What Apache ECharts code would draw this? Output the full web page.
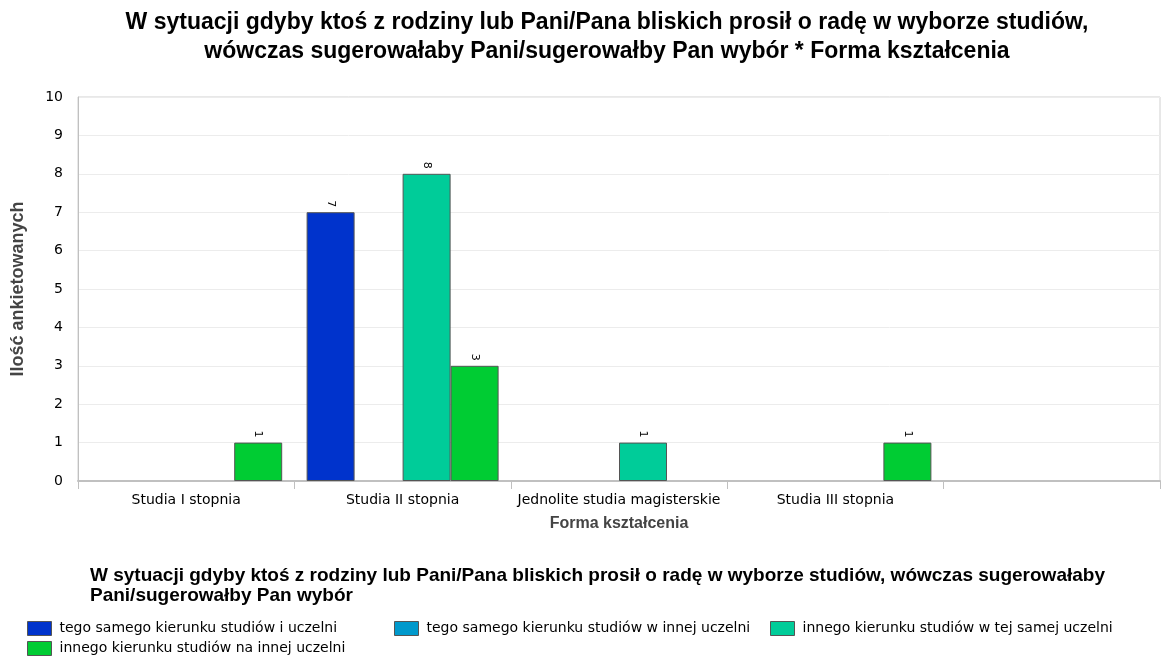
<!DOCTYPE html>
<html><head><meta charset="utf-8">
<script src="https://cdn.jsdelivr.net/npm/echarts@6/dist/echarts.min.js"></script>
<style>html,body{margin:0;padding:0;background:#fff}#c{width:1176px;height:661px}</style>
</head><body><div id="c"></div>
<script>
const categories = ['Studia I stopnia', 'Studia II stopnia', 'Jednolite studia magisterskie', 'Studia III stopnia', ''];
const seriesNames = [
  'tego samego kierunku studiów i uczelni',
  'tego samego kierunku studiów w innej uczelni',
  'innego kierunku studiów w tej samej uczelni',
  'innego kierunku studiów na innej uczelni'
];
const sameFieldSameUni = [0, 7, 0, 0, 0];
const sameFieldOtherUni = [0, 0, 0, 0, 0];
const otherFieldSameUni = [0, 8, 1, 0, 0];
const otherFieldOtherUni = [1, 3, 0, 1, 0];
const titleLines = [
  'W sytuacji gdyby ktoś z rodziny lub Pani/Pana bliskich prosił o radę w wyborze studiów,',
  'wówczas sugerowałaby Pani/sugerowałby Pan wybór * Forma kształcenia'
];
const legendTitle = 'W sytuacji gdyby ktoś z rodziny lub Pani/Pana bliskich prosił o radę w wyborze studiów, wówczas sugerowałaby\nPani/sugerowałby Pan wybór';
const colors = ['#0033cc', '#0099cc', '#00cc99', '#00cc33'];
const values = [sameFieldSameUni, sameFieldOtherUni, otherFieldSameUni, otherFieldOtherUni];

const font = 'DejaVu Sans';
const legendPos = [[27, 621], [394, 621], [770, 621], [27, 641]];

const chart = echarts.init(document.getElementById('c'), null, {renderer: 'canvas'});
chart.setOption({
  animation: false,
  color: colors,
  title: [{
    text: titleLines[0], left: 607, textAlign: 'center', top: 11, padding: 0,
    textStyle: {fontFamily: 'Liberation Sans', fontWeight: 'bold', fontSize: 23, lineHeight: 23, color: '#000'}
  }, {
    text: titleLines[1], left: 607, textAlign: 'center', top: 40, padding: 0,
    textStyle: {fontFamily: 'Liberation Sans', fontWeight: 'bold', fontSize: 23, lineHeight: 23, color: '#000'}
  }, {
    text: legendTitle, left: 90, top: 566, padding: 0,
    textStyle: {fontFamily: 'Liberation Sans', fontWeight: 'bold', fontSize: 19, lineHeight: 20, color: '#000'}
  }],
  legend: seriesNames.map((n, i) => ({
    left: legendPos[i][0], top: legendPos[i][1], padding: 0,
    itemWidth: 24, itemHeight: 14,
    icon: 'rect',
    itemStyle: {borderColor: '#555', borderWidth: 1},
    textStyle: {fontFamily: font, fontSize: 14, color: '#000', padding: [0, 0, 0, 3]},
    data: [n]
  })),
  grid: {left: 78, right: 16, top: 97, bottom: 180, show: true, borderColor: '#d0d0d0', borderWidth: 1},
  xAxis: {
    type: 'category', data: categories,
    name: 'Forma kształcenia', nameLocation: 'middle', nameGap: 35,
    nameTextStyle: {fontFamily: 'Liberation Sans', fontWeight: 'bold', fontSize: 16, color: '#444'},
    axisLine: {lineStyle: {color: '#c0c0c0', width: 2}},
    axisTick: {show: true, length: 8, lineStyle: {color: '#c0c0c0'}},
    axisLabel: {fontFamily: font, fontSize: 14, color: '#000', margin: 12, interval: 0}
  },
  yAxis: {
    type: 'value', min: 0, max: 10, interval: 1,
    name: 'Ilość ankietowanych', nameLocation: 'middle', nameGap: 51,
    nameTextStyle: {fontFamily: 'Liberation Sans', fontWeight: 'bold', fontSize: 18, color: '#444'},
    axisLine: {show: true, lineStyle: {color: '#c0c0c0', width: 1}},
    axisTick: {show: false},
    splitLine: {lineStyle: {color: '#ececec', width: 1}},
    axisLabel: {fontFamily: font, fontSize: 14, color: '#000', margin: 15}
  },
  series: values.map((arr, i) => ({
    name: seriesNames[i], type: 'bar',
    data: arr.map(v => v === 0 ? '-' : v),
    barWidth: 48, barGap: '0%', barCategoryGap: '11%',
    itemStyle: {borderColor: '#555', borderWidth: 1},
    label: {show: true, position: 'top', distance: 5, rotate: -90, align: 'right', verticalAlign: 'middle',
      fontFamily: font, fontSize: 11, color: '#000'}
  }))
});
</script></body></html>
